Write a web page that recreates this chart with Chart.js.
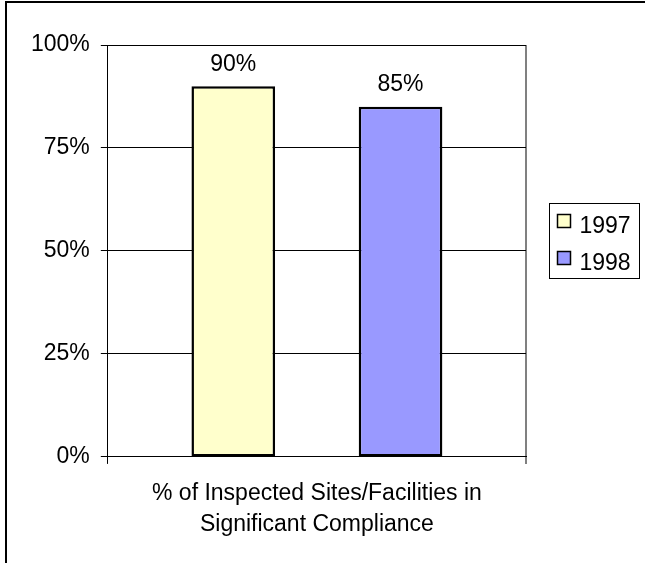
<!DOCTYPE html>
<html>
<head>
<meta charset="utf-8">
<script src="https://cdn.jsdelivr.net/npm/chart.js@4/dist/chart.umd.min.js"></script>
<style>
  html, body { margin: 0; padding: 0; background: #fff; overflow: hidden; }
  #wrap { position: relative; width: 645px; height: 563px; overflow: hidden; }
  #marco { position: absolute; left: 5px; top: 1px; width: 700px; height: 700px;
           border-left: 2px solid #000; border-top: 2px solid #000; }
  #grafico { position: absolute; left: 0; top: 0; }
</style>
</head>
<body>
<div id="wrap">
  <div id="marco"></div>
  <canvas id="grafico" width="645" height="563"></canvas>
</div>
<script>
// Datos
const categorias = [["% of Inspected Sites/Facilities in", "Significant Compliance"]];
const series = ["1997", "1998"];
const valores1997 = [90];
const valores1998 = [85];
const colores = ["#FFFFCC", "#9999FF"];
const ticksY = [0, 25, 50, 75, 100];

const fuente = "'Liberation Sans', Arial, sans-serif";
const gris = "#808080";

// etiquetas de valor encima de cada barra
const etiquetas = {
  id: "etiquetas",
  afterDatasetsDraw(chart) {
    const ctx = chart.ctx;
    ctx.save();
    ctx.font = "23px " + fuente;
    ctx.fillStyle = "#000";
    ctx.textAlign = "center";
    ctx.textBaseline = "middle";
    chart.data.datasets.forEach((ds, i) => {
      chart.getDatasetMeta(i).data.forEach((bar, j) => {
        ctx.fillText(ds.data[j] + "%", bar.x, bar.y - 22);
      });
    });
    ctx.restore();
  }
};

// leyenda con recuadro, como en el original
const leyendaCaja = {
  id: "leyendaCaja",
  afterDraw(chart) {
    const ctx = chart.ctx;
    const x = chart.chartArea.right + 23.5, y = 203.5;
    ctx.save();
    ctx.strokeStyle = "#000";
    ctx.lineWidth = 1;
    ctx.strokeRect(x, y, 90, 75);
    ctx.font = "23px " + fuente;
    ctx.textBaseline = "middle";
    chart.data.datasets.forEach((ds, i) => {
      const yy = y + 11 + i * 37;
      ctx.fillStyle = ds.backgroundColor;
      ctx.fillRect(x + 8, yy, 13, 13);
      ctx.lineWidth = 1.5;
      ctx.strokeRect(x + 8, yy, 13, 13);
      ctx.fillStyle = "#000";
      ctx.fillText(ds.label, x + 30, yy + 12);
    });
    ctx.restore();
  }
};

new Chart(document.getElementById("grafico"), {
  type: "bar",
  data: {
    labels: categorias,
    datasets: [
      { label: series[0], data: valores1997, backgroundColor: colores[0],
        borderColor: "#000", borderWidth: 2.5, borderSkipped: false },
      { label: series[1], data: valores1998, backgroundColor: colores[1],
        borderColor: "#000", borderWidth: 2.5, borderSkipped: false }
    ]
  },
  options: {
    responsive: false,
    animation: false,
    devicePixelRatio: 1,
    categoryPercentage: 0.8,
    barPercentage: 0.5,
    layout: { padding: { left: 20, right: 119, top: 45, bottom: 9 } },
    plugins: {
      legend: { display: false },
      tooltip: { enabled: false }
    },
    scales: {
      x: {
        grid: {
          offset: true,
          drawOnChartArea: true,
          color: c => c.index === 0 ? "#000" : gris,
          tickColor: c => c.index === 0 ? "#000" : gris,
          lineWidth: c => c.index === 0 ? 1 : 2,
          tickLength: 7
        },
        border: { color: "#000", width: 1 },
        ticks: {
          font: { family: fuente, size: 23, lineHeight: 1.35 },
          color: "#000",
          padding: 14,
          maxRotation: 0,
          autoSkip: false
        }
      },
      y: {
        min: 0,
        max: 100,
        afterBuildTicks: s => { s.ticks = ticksY.map(v => ({ value: v })); },
        grid: { color: "#000", tickColor: "#000", tickLength: 7, lineWidth: 1 },
        border: { color: "#000", width: 1 },
        ticks: {
          font: { family: fuente, size: 23 },
          color: "#000",
          padding: 11,
          callback: v => v + "%"
        }
      }
    }
  },
  plugins: [etiquetas, leyendaCaja]
});
</script>
</body>
</html>
